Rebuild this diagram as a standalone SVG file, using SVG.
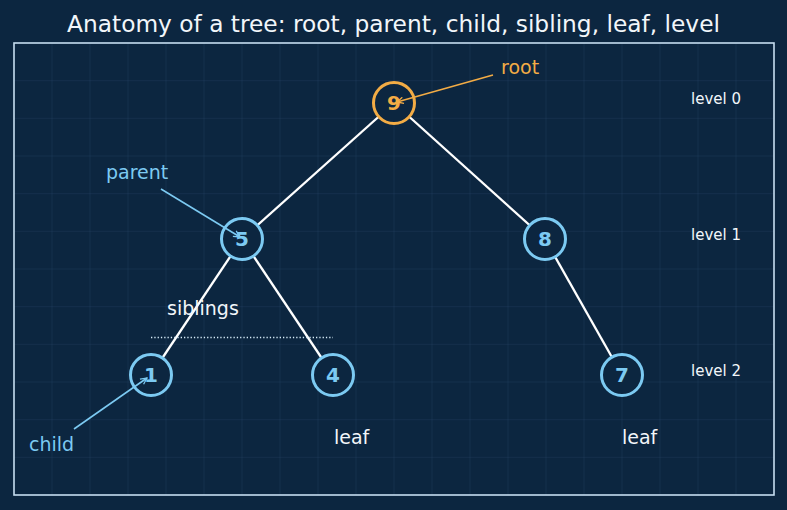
<svg xmlns="http://www.w3.org/2000/svg" width="787" height="510" viewBox="0 0 787 510">
<defs>
<style>
text{font-family:"DejaVu Sans","Liberation Sans",sans-serif;}
.title{font-size:23.3px;fill:#f2f6fa;text-anchor:middle;}
.grid line{stroke:#2a4a6a;stroke-opacity:0.3;stroke-width:1;}
.edge{stroke:#ffffff;stroke-width:2.3;fill:none;}
.node circle{fill:#0c2640;stroke:#7ccaf2;stroke-width:3;}
.node text{font-size:20px;font-weight:bold;fill:#7ccaf2;text-anchor:middle;}
.node.root circle{stroke:#f3ac45;}
.node.root text{fill:#f3ac45;}
.lbl{font-size:19px;}
.blue{fill:#7ccaf2;}
.orange{fill:#f3ac45;}
.white{fill:#f2f6fa;}
.lvl{font-size:15px;fill:#f2f6fa;}
.ann{stroke-width:1.6;fill:none;}
</style>
<marker id="ahO" viewBox="0 0 10 10" refX="9" refY="5" markerWidth="8" markerHeight="8" markerUnits="userSpaceOnUse" orient="auto"><path d="M1,1 L9,5 L1,9" fill="none" stroke="#f3ac45" stroke-width="1.6"/></marker>
<marker id="ahB" viewBox="0 0 10 10" refX="9" refY="5" markerWidth="8" markerHeight="8" markerUnits="userSpaceOnUse" orient="auto"><path d="M1,1 L9,5 L1,9" fill="none" stroke="#7ccaf2" stroke-width="1.6"/></marker>
</defs>
<rect x="0" y="0" width="787" height="510" fill="#0c2640"/>
<text class="title" x="393.5" y="32">Anatomy of a tree: root, parent, child, sibling, leaf, level</text>
<g class="grid">
<line x1="52" y1="43" x2="52" y2="495"/><line x1="90" y1="43" x2="90" y2="495"/><line x1="128" y1="43" x2="128" y2="495"/><line x1="166" y1="43" x2="166" y2="495"/><line x1="204" y1="43" x2="204" y2="495"/><line x1="242" y1="43" x2="242" y2="495"/><line x1="280" y1="43" x2="280" y2="495"/><line x1="318" y1="43" x2="318" y2="495"/><line x1="356" y1="43" x2="356" y2="495"/><line x1="394" y1="43" x2="394" y2="495"/><line x1="432" y1="43" x2="432" y2="495"/><line x1="470" y1="43" x2="470" y2="495"/><line x1="508" y1="43" x2="508" y2="495"/><line x1="546" y1="43" x2="546" y2="495"/><line x1="584" y1="43" x2="584" y2="495"/><line x1="622" y1="43" x2="622" y2="495"/><line x1="660" y1="43" x2="660" y2="495"/><line x1="698" y1="43" x2="698" y2="495"/><line x1="736" y1="43" x2="736" y2="495"/>
<line x1="14" y1="80.7" x2="774" y2="80.7"/><line x1="14" y1="118.3" x2="774" y2="118.3"/><line x1="14" y1="156" x2="774" y2="156"/><line x1="14" y1="193.7" x2="774" y2="193.7"/><line x1="14" y1="231.3" x2="774" y2="231.3"/><line x1="14" y1="269" x2="774" y2="269"/><line x1="14" y1="306.7" x2="774" y2="306.7"/><line x1="14" y1="344.3" x2="774" y2="344.3"/><line x1="14" y1="382" x2="774" y2="382"/><line x1="14" y1="419.7" x2="774" y2="419.7"/><line x1="14" y1="457.3" x2="774" y2="457.3"/>
</g>
<rect x="14" y="43" width="760" height="452" fill="none" stroke="#c6def0" stroke-width="1.6"/>
<g id="edges">
<line class="edge" x1="394" y1="103" x2="242" y2="239"/>
<line class="edge" x1="394" y1="103" x2="545" y2="239"/>
<line class="edge" x1="242" y1="239" x2="151" y2="375"/>
<line class="edge" x1="242" y1="239" x2="333" y2="375"/>
<line class="edge" x1="545" y1="239" x2="622" y2="375"/>
</g>
<g id="node-9" class="node root"><circle cx="394" cy="103" r="20.5"/><text x="394" y="110">9</text></g>
<g id="node-5" class="node"><circle cx="242" cy="239" r="20.5"/><text x="242" y="246">5</text></g>
<g id="node-8" class="node"><circle cx="545" cy="239" r="20.5"/><text x="545" y="246">8</text></g>
<g id="node-1" class="node"><circle cx="151" cy="375" r="20.5"/><text x="151" y="382">1</text></g>
<g id="node-4" class="node"><circle cx="333" cy="375" r="20.5"/><text x="333" y="382">4</text></g>
<g id="node-7" class="node"><circle cx="622" cy="375" r="20.5"/><text x="622" y="382">7</text></g>
<g id="annotations">
<line class="ann" x1="493" y1="75" x2="397" y2="102" stroke="#f3ac45" marker-end="url(#ahO)"/>
<line class="ann" x1="161" y1="189" x2="240" y2="237" stroke="#7ccaf2" marker-end="url(#ahB)"/>
<line class="ann" x1="74" y1="429" x2="147" y2="378" stroke="#7ccaf2" marker-end="url(#ahB)"/>
<line x1="151" y1="337.5" x2="333" y2="337.5" stroke="#d6ecf8" stroke-width="1.3" stroke-dasharray="1.3,2"/>
</g>
<text class="lbl orange" x="501" y="74">root</text>
<text class="lbl blue" x="106" y="179">parent</text>
<text class="lbl blue" x="29" y="451">child</text>
<text class="lbl white" x="167" y="315">siblings</text>
<text class="lbl white" x="334" y="444">leaf</text>
<text class="lbl white" x="622" y="444">leaf</text>
<text class="lvl" x="691" y="104">level 0</text>
<text class="lvl" x="691" y="240">level 1</text>
<text class="lvl" x="691" y="376">level 2</text>
</svg>
